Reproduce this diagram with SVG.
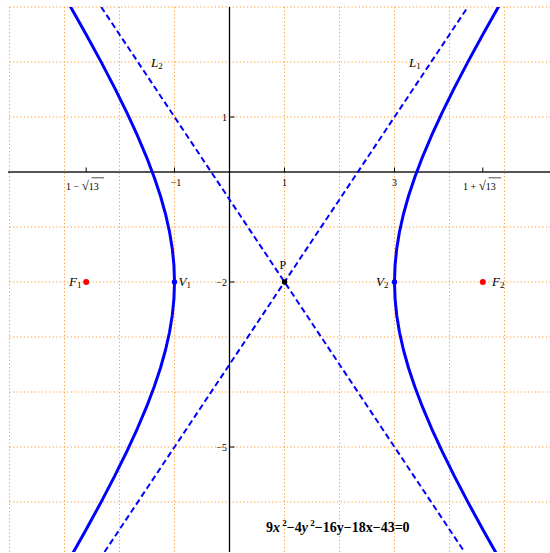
<svg xmlns="http://www.w3.org/2000/svg" width="550" height="553" viewBox="0 0 550 553">
<style>
.grid{stroke:#ff9a2e;stroke-width:1;stroke-dasharray:1.2 2.4;fill:none}
.curve{stroke:#0000ff;stroke-width:3;fill:none;stroke-linejoin:round}
.asym{stroke:#0000ff;stroke-width:2;fill:none;stroke-dasharray:6 3.5}
.tick{stroke:#000;stroke-width:1}
.tl{font-family:"Liberation Serif",serif;font-size:10px;fill:#000}
.lab{font-family:"Liberation Serif",serif;font-size:13px;font-style:italic;fill:#000}
.sub{font-size:9px;font-style:normal}
.rad{font-size:13px}
</style>
<defs>
<clipPath id="plot"><rect x="9.5" y="7" width="540.5" height="545"/></clipPath>
</defs>
<rect width="550" height="553" fill="#fff"/>
<g id="grid">
<path class="grid" d="M9.5 7V552M64.5 7V552M119.5 7V552M174.5 7V552M284.5 7V552M339.5 7V552M394.5 7V552M449.5 7V552M504.5 7V552"/>
<path class="grid" d="M9.5 7H550M9.5 62H550M9.5 117H550M9.5 227H550M9.5 282H550M9.5 337H550M9.5 392H550M9.5 447H550M9.5 502H550"/>
</g>
<g id="axes">
<line x1="8" y1="172" x2="550" y2="172" stroke="#555" stroke-width="2"/>
<line x1="229.5" y1="7" x2="229.5" y2="552" stroke="#000" stroke-width="1.3"/>
<path class="tick" d="M86.2 172V167.5M174.5 172V167.5M284.5 172V167.5M394.5 172V167.5M482.8 172V167.5M229.5 117H234.5M229.5 282H234.5M229.5 447H234.5"/>
<text class="tl" x="66" y="190">1 − <tspan class="rad">√</tspan><tspan>13</tspan></text>
<line x1="91.5" y1="177.8" x2="104" y2="177.8" stroke="#000" stroke-width="0.7"/>
<text class="tl" x="176" y="186" text-anchor="middle">−1</text>
<text class="tl" x="284.5" y="186" text-anchor="middle">1</text>
<text class="tl" x="394.5" y="186" text-anchor="middle">3</text>
<text class="tl" x="463" y="190">1 + <tspan class="rad">√</tspan><tspan>13</tspan></text>
<line x1="488.5" y1="177.8" x2="501" y2="177.8" stroke="#000" stroke-width="0.7"/>
<text class="tl" x="227" y="120.5" text-anchor="end">1</text>
<text class="tl" x="227" y="285.5" text-anchor="end">−2</text>
<text class="tl" x="227" y="450.5" text-anchor="end">−5</text>
</g>
<g id="connectors" clip-path="url(#plot)">
<path id="L1" class="asym" d="M104.5 552L467.8 7"/>
<path id="L2" class="asym" d="M101.2 7L464.5 552"/>
</g>
<g id="hyperbola" clip-path="url(#plot)">
<path id="right-branch" class="curve" d="M501.3 1.8L483.67 32.94L468.04 61.62L454.24 88.09L442.14 112.62L431.62 135.46L422.57 156.83L414.9 176.95L408.54 196.02L403.42 214.23L399.49 231.75L396.71 248.78L395.05 265.47L394.5 282L395.05 298.53L396.71 315.22L399.49 332.25L403.42 349.77L408.54 367.98L414.9 387.05L422.57 407.17L431.62 428.54L442.14 451.38L454.24 475.91L468.04 502.38L483.67 531.06L501.3 562.2"/>
<path id="left-branch" class="curve" d="M67.7 1.8L85.33 32.94L100.96 61.62L114.76 88.09L126.86 112.62L137.38 135.46L146.43 156.83L154.1 176.95L160.46 196.02L165.58 214.23L169.51 231.75L172.29 248.78L173.95 265.47L174.5 282L173.95 298.53L172.29 315.22L169.51 332.25L165.58 349.77L160.46 367.98L154.1 387.05L146.43 407.17L137.38 428.54L126.86 451.38L114.76 475.91L100.96 502.38L85.33 531.06L67.7 562.2"/>
</g>
<g id="L1-label"><text class="lab" x="409" y="67">L<tspan class="sub" dy="2">1</tspan></text></g>
<g id="L2-label"><text class="lab" x="151" y="67">L<tspan class="sub" dy="2">2</tspan></text></g>
<g id="F1"><circle cx="86.2" cy="282" r="3" fill="#ff0000"/><text class="lab" x="69" y="286">F<tspan class="sub" dy="2">1</tspan></text></g>
<g id="V1"><circle cx="174.5" cy="282" r="2.7" fill="#0000ff"/><text class="lab" x="178.5" y="286">V<tspan class="sub" dy="2">1</tspan></text></g>
<g id="P"><circle cx="284.5" cy="282" r="2.7" fill="#000"/><text x="279.5" y="269" font-family="Liberation Serif, serif" font-size="12">P</text></g>
<g id="V2"><circle cx="394.5" cy="282" r="2.7" fill="#0000ff"/><text class="lab" x="376" y="286">V<tspan class="sub" dy="2">2</tspan></text></g>
<g id="F2"><circle cx="482.8" cy="282" r="3" fill="#ff0000"/><text class="lab" x="492" y="286">F<tspan class="sub" dy="2">2</tspan></text></g>
<g id="equation"><text x="266" y="532" font-family="Liberation Serif, serif" font-size="14" font-weight="bold">9<tspan font-style="italic">x</tspan><tspan font-size="9" dy="-6"> 2</tspan><tspan dy="6">−4</tspan><tspan font-style="italic">y</tspan><tspan font-size="9" dy="-6"> 2</tspan><tspan dy="6">−16y−18x−43=0</tspan></text></g>
</svg>
